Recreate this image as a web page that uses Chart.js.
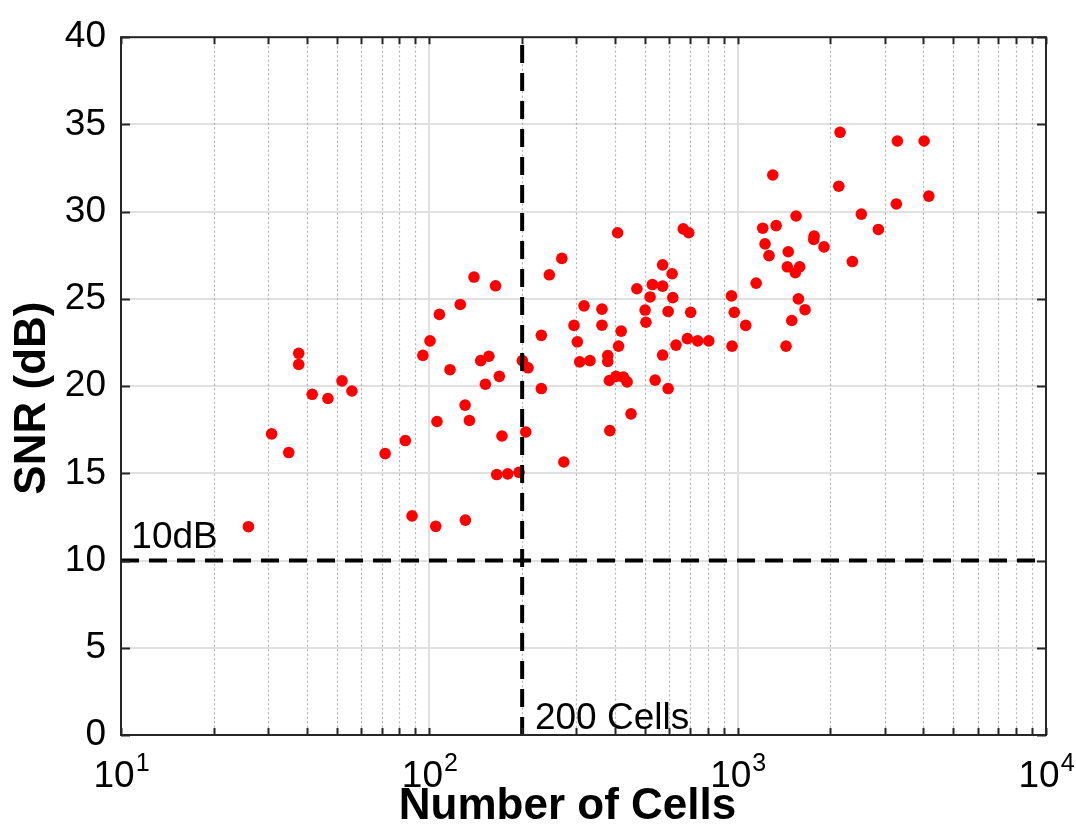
<!DOCTYPE html>
<html>
<head>
<meta charset="utf-8">
<title>SNR vs Number of Cells</title>
<script src="https://cdn.jsdelivr.net/npm/chart.js@4.4.1/dist/chart.umd.min.js"></script>
<style>
  html, body { margin: 0; padding: 0; background: #fff; }
  canvas { display: block; }
</style>
</head>
<body>
<canvas id="snrChart" width="1076" height="831"></canvas>
<script>
// number of cells per sample (x) and measured SNR in dB (y)
const cells = [
  37.7, 37.7, 30.8, 35.0, 41.7, 46.9, 52.1, 56.1, 71.9, 83.6,
  87.9, 25.9, 95.3, 100.5, 104.9, 130.9, 408, 666, 694, 269,
  245, 139.6, 164, 571, 613, 471, 529, 571, 520, 616,
  955, 126, 317.5, 363, 501, 595, 704, 975, 107.8, 504,
  1062, 294.6, 363, 419, 230.8, 302, 411, 687, 742, 806,
  631, 959, 156, 146.8, 200.3, 209, 307.5, 332, 379, 379,
  571, 116.7, 168.7, 152, 230.8, 383.7, 403, 426, 438, 540,
  595, 130.6, 134.9, 105.9, 451, 172, 205.5, 385, 273, 165.4,
  179.6, 195.4, 2148, 3296, 4024, 1300, 2128, 4168, 3271, 2518,
  1547, 2860, 1206, 1333, 1770, 1765, 1227, 1906, 1459, 1264,
  2355, 1449, 1589, 1538, 1148, 1574, 1654, 1498, 1435
];
const snr = [
  21.88, 21.24, 17.26, 16.19, 19.53, 19.29, 20.30, 19.72, 16.13, 16.88,
  12.56, 11.94, 21.76, 22.59, 11.96, 12.32, 28.79, 29.01, 28.79, 27.32,
  26.38, 26.25, 25.75, 26.95, 26.44, 25.58, 25.82, 25.73, 25.11, 25.07,
  25.17, 24.68, 24.60, 24.41, 24.36, 24.28, 24.23, 24.23, 24.11, 23.66,
  23.48, 23.48, 23.49, 23.15, 22.91, 22.54, 22.29, 22.72, 22.59, 22.59,
  22.35, 22.29, 21.71, 21.46, 21.46, 21.05, 21.39, 21.46, 21.75, 21.41,
  21.78, 20.94, 20.56, 20.11, 19.86, 20.32, 20.56, 20.52, 20.24, 20.34,
  19.86, 18.91, 18.03, 17.97, 18.41, 17.14, 17.37, 17.45, 15.65, 14.93,
  14.97, 15.06, 34.55, 34.05, 34.05, 32.10, 31.46, 30.89, 30.44, 29.86,
  29.75, 28.98, 29.05, 29.20, 28.60, 28.41, 28.15, 27.98, 27.70, 27.48,
  27.14, 26.84, 26.84, 26.50, 25.90, 25.00, 24.38, 23.76, 22.29
];

const xMin = 10, xMax = 10000;
const yMin = 0, yMax = 40, yStep = 5;
const xDecades = [10, 100, 1000, 10000];
const xExponents = ['1', '2', '3', '4'];

const cellThreshold = 200;
const snrThreshold = 10;
const snrLabel = '10dB';
const cellLabel = '200 Cells';

const FONT = '"Liberation Sans", Arial, Helvetica, sans-serif';
const INK = '#000';
const FRAME = '#262626';

// 1..9 x each decade, used for minor grid and tick marks
const xTickValues = [];
for (let e = 1; e <= 4; e++) {
  for (let m = 1; m <= 9; m++) {
    const v = m * Math.pow(10, e);
    if (v <= xMax) xTickValues.push(v);
  }
}

const axesBox = {
  id: 'axesBox',
  beforeDatasetsDraw(chart) {
    const { ctx, chartArea: a, scales: { x } } = chart;
    ctx.save();
    ctx.strokeStyle = 'rgba(160,160,160,0.8)';
    ctx.lineWidth = 1.2;
    ctx.setLineDash([2, 2.5]);
    x.ticks.forEach(t => {
      if (xDecades.includes(t.value)) return;
      const px = Math.round(x.getPixelForValue(t.value)) + 0.5;
      ctx.beginPath();
      ctx.moveTo(px, a.top);
      ctx.lineTo(px, a.bottom);
      ctx.stroke();
    });
    ctx.restore();
  },
  afterDatasetsDraw(chart) {
    const { ctx, chartArea: a, scales: { x, y } } = chart;
    ctx.save();
    ctx.strokeStyle = FRAME;
    ctx.lineWidth = 2;
    // inward tick marks on all four sides
    ctx.beginPath();
    x.ticks.forEach(t => {
      const px = Math.round(x.getPixelForValue(t.value)) + 0.5;
      ctx.moveTo(px, a.bottom); ctx.lineTo(px, a.bottom - 7);
      ctx.moveTo(px, a.top); ctx.lineTo(px, a.top + 7);
    });
    y.ticks.forEach(t => {
      const py = Math.round(y.getPixelForValue(t.value)) + 0.5;
      ctx.moveTo(a.left, py); ctx.lineTo(a.left + 9, py);
      ctx.moveTo(a.right, py); ctx.lineTo(a.right - 9, py);
    });
    ctx.stroke();
    ctx.strokeRect(a.left, a.top, a.right - a.left, a.bottom - a.top);

    // threshold annotations
    ctx.fillStyle = INK;
    ctx.font = '37px ' + FONT;
    ctx.textAlign = 'left';
    ctx.textBaseline = 'alphabetic';
    ctx.fillText(snrLabel, x.getPixelForValue(10.8), y.getPixelForValue(10.7));
    ctx.fillText(cellLabel, x.getPixelForValue(220), y.getPixelForValue(0.34));
    ctx.restore();
  },
  afterDraw(chart) {
    const { ctx, chartArea: a, scales: { x } } = chart;
    ctx.save();
    ctx.fillStyle = INK;
    ctx.textBaseline = 'alphabetic';
    ctx.textAlign = 'left';
    // decade labels as 10 with a raised exponent
    xDecades.forEach((v, i) => {
      const px = x.getPixelForValue(v);
      ctx.font = '37px ' + FONT;
      const wBase = ctx.measureText('10').width;
      ctx.font = '25px ' + FONT;
      const wExp = ctx.measureText(xExponents[i]).width;
      const left = px - (wBase + wExp) / 2;
      ctx.font = '37px ' + FONT;
      ctx.fillText('10', left, a.bottom + 52);
      ctx.font = '25px ' + FONT;
      ctx.fillText(xExponents[i], left + wBase + 1, a.bottom + 36);
    });

    // axis titles
    ctx.font = 'bold 44px ' + FONT;
    ctx.textAlign = 'center';
    ctx.textBaseline = 'middle';
    ctx.fillText('Number of Cells', (a.left + a.right) / 2 - 16, 807);
    ctx.translate(33, (a.top + a.bottom) / 2 + 12);
    ctx.rotate(-Math.PI / 2);
    ctx.fillText('SNR (dB)', 0, 0);
    ctx.restore();
  }
};

const points = cells.map((c, i) => ({ x: c, y: snr[i] }));

new Chart(document.getElementById('snrChart'), {
  type: 'scatter',
  data: {
    datasets: [
      {
        label: 'threshold cells',
        data: [{ x: cellThreshold, y: yMin }, { x: cellThreshold, y: yMax }],
        showLine: true,
        borderColor: '#000',
        borderWidth: 4,
        borderDash: [18, 10],
        pointRadius: 0,
        order: 0
      },
      {
        label: 'threshold snr',
        data: [{ x: xMin, y: snrThreshold }, { x: xMax, y: snrThreshold }],
        showLine: true,
        borderColor: '#000',
        borderWidth: 4,
        borderDash: [18, 10],
        pointRadius: 0,
        order: 0
      },
      {
        label: 'SNR',
        data: points,
        backgroundColor: '#ff0000',
        borderWidth: 0,
        pointRadius: 5.8,
        pointHoverRadius: 5.8,
        order: 1
      }
    ]
  },
  options: {
    responsive: false,
    devicePixelRatio: 1,
    animation: false,
    events: [],
    layout: { padding: { top: 25, right: 30, left: 0, bottom: 0 } },
    plugins: { legend: { display: false }, tooltip: { enabled: false } },
    scales: {
      x: {
        type: 'logarithmic',
        min: xMin,
        max: xMax,
        afterBuildTicks: s => { s.ticks = xTickValues.map(v => ({ value: v })); },
        afterFit: s => { s.height = 96; },
        ticks: { display: false },
        grid: {
          drawTicks: false,
          lineWidth: 2,
          color: c => (c.tick && xDecades.includes(c.tick.value)) ? '#e0e0e0' : 'rgba(0,0,0,0)'
        },
        border: { display: false }
      },
      y: {
        min: yMin,
        max: yMax,
        afterFit: s => { s.width = 121; },
        ticks: {
          stepSize: yStep,
          padding: 15,
          color: INK,
          font: { family: FONT, size: 37 }
        },
        grid: { drawTicks: false, lineWidth: 2, color: '#e0e0e0' },
        border: { display: false }
      }
    }
  },
  plugins: [axesBox]
});
</script>
</body>
</html>
